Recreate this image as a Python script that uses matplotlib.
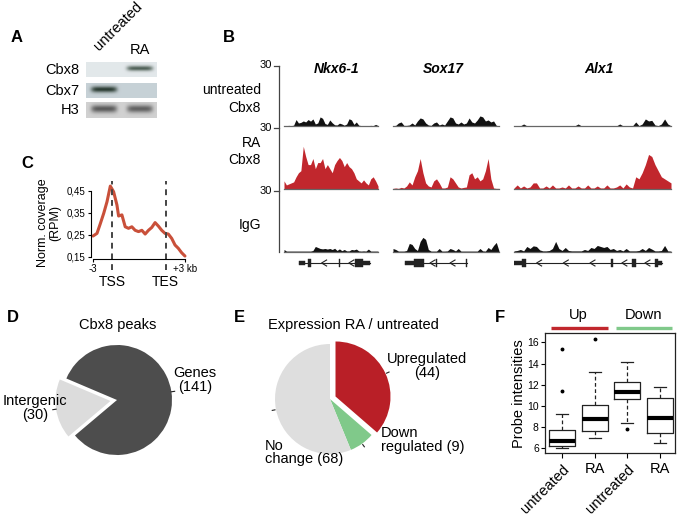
import numpy as np
import matplotlib
matplotlib.use('Agg')
import matplotlib.pyplot as plt

plt.rcParams['font.family'] = ['Liberation Sans', 'DejaVu Sans']

W, H = 680, 516

# A: western blot, band strength per lane
blot_rows = ['Cbx8', 'Cbx7', 'H3']
blot_untreated = [0.0, 0.95, 0.85]
blot_ra = [0.8, 0.0, 0.8]

# B: ChIP-seq coverage (0-30 scale), one list per gene and track
genes = ['Nkx6-1', 'Sox17', 'Alx1']
track_names = ['untreated\nCbx8', 'RA\nCbx8', 'IgG']
nkx_untr = [0.2, 0.2, 0.3, 0.2, 0.4, 3.2, 1.5, 1.8, 2.5, 2.0, 3.2, 2.4, 3.5, 1.0, 1.5, 4.5, 3.8, 1.2, 0.8, 3.0,
            1.6, 0.6, 0.5, 1.4, 1.0, 0.4, 1.0, 3.6, 3.0, 0.8, 2.0, 0.4, 0.2, 0.2, 0.2, 0.2, 0.3, 0.2, 0.8, 0.2]
nkx_ra = [4, 2, 2.5, 3, 3.5, 6, 8, 9, 21, 16, 12, 12, 15, 10, 13, 13, 15, 10, 12, 10,
          8, 12, 14, 15.5, 14, 11, 13, 11, 10, 8, 5, 4, 3, 4.5, 3, 2, 5, 6, 4, 1.5]
nkx_igg = [1, 0.2, 0.2, 0.2, 0.2, 0.2, 0.2, 0.2, 0.2, 0.2, 0.2, 0.2, 0.5, 2.5, 2, 1.5, 1.3, 1.5, 1.2, 1.5,
           1, 1.6, 0.5, 1.3, 0.4, 1, 0.3, 0.3, 1, 0.8, 1.2, 0.3, 0.2, 0.3, 0.2, 1.2, 0.2, 0.2, 0.2, 0.2]
sox_untr = [0.2, 0.3, 1.5, 2, 0.3, 0.3, 0.5, 1.5, 0.5, 2.5, 4, 3.5, 1.5, 0.5, 0.3, 1.5, 2, 0.5, 1, 0.5,
            2.5, 4.5, 4, 1.5, 1, 2, 1, 1.5, 4, 2, 1.5, 3, 5, 4.5, 2.5, 3, 2, 2.5, 0.3, 0.2]
sox_ra = [0.3, 0.5, 0.3, 0.8, 0.5, 1.5, 3.5, 2, 6, 9, 15, 8, 3, 1.5, 1, 4, 5, 3, 0.5, 0.5,
          1, 6, 5, 3, 1, 0.5, 0.8, 1, 7, 8, 5, 6, 4, 5, 9, 15, 5, 0.5, 0.3, 0.3]
sox_igg = [1.5, 1, 0.2, 0.2, 0.2, 0.5, 4, 3.5, 1.5, 0.5, 5, 7, 6, 1, 0.2, 0.2, 0.2, 1.5, 0.2, 0.2,
           0.3, 1.5, 1, 0.3, 1.5, 0.2, 0.2, 0.2, 0.2, 0.2, 0.2, 0.2, 1.5, 0.3, 0.2, 2, 1, 3, 4.5, 0.3]
alx_untr = [0.1, 0.1, 0.1, 1, 0.1, 0.1, 0.1, 0.1, 0.1, 0.1, 0.1, 0.1, 0.1, 0.1, 0.1, 0.1, 0.1, 0.1, 0.1, 0.1,
            1, 0.1, 0.1, 0.1, 0.1, 0.1, 0.1, 0.1, 0.1, 0.1, 0.1, 0.1, 0.1, 1, 0.1, 0.1, 0.1, 0.1, 2, 0.2,
            1, 3.5, 2.5, 2.8, 0.5, 0.2, 1, 3.5, 1, 0.1]
alx_ra = [0.5, 2, 0.5, 1.5, 0.5, 1, 3, 3, 0.5, 0.5, 1.5, 0.5, 2, 0.5, 0.5, 1, 0.5, 2, 0.5, 0.5,
          1.5, 0.5, 0.5, 2, 0.5, 0.5, 1.5, 0.5, 0.5, 2, 0.5, 0.5, 1, 2, 0.5, 2.5, 1, 0.5, 6, 5,
          8, 12, 17, 16, 12, 9, 6, 5, 4, 3]
alx_igg = [0.3, 0.5, 1, 0.3, 2.5, 1.5, 2.8, 2.5, 0.8, 0.3, 0.3, 0.5, 1.5, 5, 1.5, 0.5, 2, 0.5, 0.3, 0.3,
           0.3, 0.3, 1, 0.5, 2, 1.5, 3, 2.5, 2, 2.5, 1, 1.5, 0.5, 1, 0.3, 1.5, 0.3, 0.3, 0.3, 0.5,
           1.5, 0.5, 2, 1.2, 0.3, 0.3, 0.5, 3, 0.3, 0.2]

# gene models, in fractions of each locus window: intron span, exons (start, end, full/half), strand arrows
gene_span = [(0.16, 0.915), (0.113, 0.695), (0.0, 0.94)]
gene_exons = [[(0.16, 0.223, 0.5), (0.255, 0.287, 1), (0.585, 0.6, 1), (0.755, 0.84, 1), (0.84, 0.915, 0.5)],
              [(0.113, 0.198, 0.5), (0.198, 0.292, 1), (0.405, 0.418, 1), (0.685, 0.698, 1)],
              [(0.0, 0.049, 0.5), (0.049, 0.075, 1), (0.62, 0.632, 1), (0.75, 0.775, 1),
               (0.895, 0.917, 1), (0.917, 0.94, 0.5)]]
gene_arrows = [[0.40, 0.69], [0.349, 0.538], [0.144, 0.314, 0.484, 0.687, 0.834]]

# C: metagene profile
meta_pos = [0, 0.043, 0.079, 0.116, 0.152, 0.188, 0.224, 0.260, 0.278, 0.314, 0.350, 0.386, 0.422, 0.458,
            0.495, 0.531, 0.567, 0.603, 0.639, 0.675, 0.711, 0.747, 0.783, 0.819, 0.856, 0.892, 0.928,
            0.964, 1.0]
meta_cov = [0.244, 0.256, 0.30, 0.347, 0.40, 0.471, 0.445, 0.385, 0.335, 0.34, 0.286, 0.279, 0.286, 0.27,
            0.264, 0.27, 0.253, 0.27, 0.283, 0.305, 0.289, 0.27, 0.256, 0.253, 0.233, 0.203, 0.188,
            0.168, 0.153]
tss_pos, tes_pos = 0.206, 0.79
c_yticks = [0.15, 0.25, 0.35, 0.45]

# D
d_labels = ['Intergenic\n(30)', 'Genes\n(141)']
d_counts = [30, 141]

# E
e_labels = ['Upregulated\n(44)', 'Down\nregulated (9)', 'No\nchange (68)']
e_counts = [44, 9, 68]

# F: box statistics
f_ticks = ['untreated', 'RA', 'untreated', 'RA']
f_whislo = [6.0, 6.94, 8.42, 6.53]
f_q1 = [6.22, 7.66, 10.62, 7.47]
f_med = [6.72, 8.74, 11.31, 8.86]
f_q3 = [7.73, 10.06, 12.23, 10.72]
f_whishi = [9.2, 13.17, 14.17, 11.75]
f_fliers = [[11.43, 15.37], [16.31], [7.79], []]

RED = '#c1272d'
GREEN = '#80c98a'

fig = plt.figure(figsize=(6.8, 5.16), dpi=100)


def px_axes(x0, y0, x1, y1):
    return fig.add_axes([x0 / W, 1 - y1 / H, (x1 - x0) / W, (y1 - y0) / H])


# ---- B tracks
cols = [(284, 378), (393, 499), (514, 671)]
rows = [(65.5, 126), (128, 189), (191, 251.5)]
cov = [[nkx_untr, nkx_ra, nkx_igg], [sox_untr, sox_ra, sox_igg], [alx_untr, alx_ra, alx_igg]]
fills = ['#111111', RED, '#111111']
for g, (x0, x1) in enumerate(cols):
    for r, (y0, y1) in enumerate(rows):
        ax = px_axes(x0, y0, x1, y1)
        v = np.array(cov[g][r])
        xx = np.linspace(0, 1, len(v))
        ax.fill_between(xx, 0, v, color=fills[r], lw=0)
        ax.axhline(0, color='#666666', lw=0.9, clip_on=False)
        ax.set_xlim(0, 1)
        ax.set_ylim(0, 30)
        ax.axis('off')
    ax = px_axes(x0, 257, x1, 269)
    a, b = gene_span[g]
    ax.plot([a, b], [0, 0], color='#222222', lw=0.8)
    for s, e, hh in gene_exons[g]:
        ax.add_patch(plt.Rectangle((s, -0.6 * hh), e - s, 1.2 * hh, color='#222222', lw=0.3))
    d = 5.0 / (x1 - x0)
    for c in gene_arrows[g]:
        ax.plot([c + d, c, c + d], [0.5, 0, -0.5], color='#222222', lw=0.8)
    ax.set_xlim(0, 1)
    ax.set_ylim(-1, 1)
    ax.axis('off')

# ---- C metagene
ax = px_axes(91.2, 184.1, 186.8, 258.9)
ax.plot(meta_pos, meta_cov, color='#c9503a', lw=2.2, solid_capstyle='round')
ax.set_xlim(-0.02, 1.02)
ax.set_ylim(0.14, 0.48)
for p in (tss_pos, tes_pos):
    ax.plot([p, p], [0.09, 0.494], ls=(0, (3, 2.5)), color='#444444', lw=1.4, clip_on=False)
ax.text(tss_pos, 0.035, 'TSS', ha='center', va='center', fontsize=10)
ax.text(tes_pos, 0.035, 'TES', ha='center', va='center', fontsize=10)
for sp in ('top', 'right'):
    ax.spines[sp].set_visible(False)
ax.spines['left'].set_bounds(0.15, 0.45)
ax.spines['bottom'].set_bounds(0, 1)
ax.set_yticks(c_yticks)
ax.set_yticklabels([('%.2f' % v).replace('.', ',') for v in c_yticks])
ax.set_xticks([0, 1])
ax.set_xticklabels(['-3', '+3 kb'])
ax.tick_params(labelsize=7, length=2.5, pad=1.5)
ax.patch.set_alpha(0)

# ---- D pie
ax = px_axes(117 - 71.5, 400 - 71.5, 117 + 71.5, 400 + 71.5)
wedges, _ = ax.pie(d_counts, colors=['#dcdcdc', '#4d4d4d'], explode=[0.12, 0], startangle=157,
                   counterclock=True, wedgeprops=dict(lw=0))
for w, ex in zip(wedges, [0.12, 0]):
    th = np.deg2rad((w.theta1 + w.theta2) / 2)
    ax.plot([(1.0 + ex) * np.cos(th), (1.06 + ex) * np.cos(th)],
            [(1.0 + ex) * np.sin(th), (1.06 + ex) * np.sin(th)], color='#222222', lw=0.8)
ax.set_xlim(-1.3, 1.3)
ax.set_ylim(-1.3, 1.3)
ax.set_aspect('equal')

# ---- E pie
ax = px_axes(330 - 71.5, 399 - 71.5, 330 + 71.5, 399 + 71.5)
e_explode = [0.11, 0, 0]
wedges, _ = ax.pie(e_counts, colors=['#b91f27', GREEN, '#dedede'], explode=e_explode, startangle=90,
                   counterclock=False, wedgeprops=dict(lw=0))
for w, ex in zip(wedges, e_explode):
    th = np.deg2rad((w.theta1 + w.theta2) / 2)
    ax.plot([(1.02 + ex) * np.cos(th), (1.07 + ex) * np.cos(th)],
            [(1.02 + ex) * np.sin(th), (1.07 + ex) * np.sin(th)], color='#222222', lw=0.8)
ax.set_xlim(-1.3, 1.3)
ax.set_ylim(-1.3, 1.3)
ax.set_aspect('equal')

# ---- F boxplots
ax = px_axes(545, 333, 675, 453)
stats = []
for i in range(4):
    stats.append(dict(whislo=f_whislo[i], q1=f_q1[i], med=f_med[i], q3=f_q3[i],
                      whishi=f_whishi[i], fliers=f_fliers[i]))
ax.bxp(stats, positions=[1, 2, 3, 4], widths=0.8, capwidths=0.36, showfliers=True,
       boxprops=dict(color='#222222', lw=0.9),
       medianprops=dict(color='black', lw=3),
       whiskerprops=dict(color='#222222', lw=0.9, ls=(0, (3, 2))),
       capprops=dict(color='#222222', lw=0.9),
       flierprops=dict(marker='o', ms=1.8, mfc='black', mec='black'))
ax.set_xlim(0.48, 4.46)
ax.set_ylim(5.56, 16.88)
ax.set_yticks([6, 8, 10, 12, 14, 16])
ax.set_xticks([1, 2, 3, 4])
ax.set_xticklabels(f_ticks)
ax.tick_params(axis='y', labelsize=7.5, length=3, pad=1.5)
ax.tick_params(axis='x', labelsize=10.5, length=3.5, pad=3)
for lbl, t in zip(ax.get_xticklabels(), f_ticks):
    if t == 'untreated':
        lbl.set_rotation(45)
        lbl.set_ha('right')
        lbl.set_rotation_mode('anchor')
for sp in ax.spines.values():
    sp.set_linewidth(0.9)
    sp.set_color('#222222')

# ---- overlay for labels and blots
ov = fig.add_axes([0, 0, 1, 1])

# western blot
bx0, bx1 = 86, 157
lanes = [104, 140]
box_y = [(62, 77), (83, 98), (102, 118)]
band_w = [2.6, 3.1, 3.9]
bgs = [(0.89, 0.91, 0.92), (0.78, 0.82, 0.84), (0.82, 0.82, 0.82)]
band_c = [(0.16, 0.24, 0.19), (0.13, 0.20, 0.16), (0.27, 0.27, 0.27)]
xx = np.linspace(bx0, bx1, 142)
for i in range(3):
    y0, y1 = box_y[i]
    yy = np.linspace(y0, y1, 30)
    X, Y = np.meshgrid(xx, yy)
    alpha = np.zeros_like(X)
    for lx, val in zip(lanes, [blot_untreated[i], blot_ra[i]]):
        alpha += val * np.exp(-((X - lx) / 13.0) ** 6) * np.exp(-((Y - (y0 + 0.42 * (y1 - y0))) / band_w[i]) ** 2)
    alpha = np.clip(alpha, 0, 1)[..., None]
    img = np.array(bgs[i]) * (1 - alpha) + np.array(band_c[i]) * alpha
    ov.imshow(img, extent=(bx0, bx1, y1, y0), aspect='auto', interpolation='bilinear')
    ov.text(79, (y0 + y1) / 2 + 0.5, blot_rows[i], ha='right', va='center', fontsize=10.5)
ov.text(101, 53, 'untreated', rotation=45, ha='left', va='bottom', rotation_mode='anchor', fontsize=10.5)
ov.text(140, 50, 'RA', ha='center', va='center', fontsize=10.5)

# panel letters
for ch, x, y in [('A', 17, 38), ('B', 229, 38), ('C', 27, 163), ('D', 13, 318), ('E', 239, 317), ('F', 500, 317)]:
    ov.text(x, y, ch, fontsize=12, weight='bold', ha='center', va='center')

# B labels and scale
ov.plot([279, 279], [rows[0][0], rows[2][1]], color='#444444', lw=0.9)
for (y0, y1), name in zip(rows, track_names):
    ov.plot([274, 279], [y0, y0], color='#444444', lw=0.9)
    ov.text(272, y0, '30', ha='right', va='center', fontsize=8)
ov.text(261, 99, track_names[0], ha='right', va='center', fontsize=10, linespacing=1.3)
ov.text(261, 151.5, track_names[1], ha='right', va='center', fontsize=10, linespacing=1.3)
ov.text(261, 225, track_names[2], ha='right', va='center', fontsize=10)
for (x0, x1), gname in zip(cols, genes):
    ov.text((x0 + x1) / 2 + [6, -3, 6][genes.index(gname)], 69, gname, ha='center', va='center',
            fontsize=10, weight='bold', style='italic')

# C y label
ov.text(49, 223, 'Norm. coverage\n(RPM)', rotation=90, ha='center', va='center', fontsize=9, linespacing=1.1)

# D labels
ov.text(118, 325, 'Cbx8 peaks', ha='center', va='center', fontsize=10.5)
ov.text(195, 380, d_labels[1], ha='center', va='center', fontsize=10.5, linespacing=1.0)
ov.text(35, 407.5, d_labels[0], ha='center', va='center', fontsize=10.5, linespacing=1.0)

# E labels
ov.text(353, 325, 'Expression RA / untreated', ha='center', va='center', fontsize=10.5)
ov.text(427, 366.5, e_labels[0], ha='center', va='center', fontsize=10.5, linespacing=1.0)
ov.text(381, 440, e_labels[1], ha='left', va='center', fontsize=10.5, linespacing=1.0)
ov.text(265, 452.5, e_labels[2], ha='left', va='center', fontsize=10.5, linespacing=1.0)

# F group bars
ov.text(578, 315, 'Up', ha='center', va='center', fontsize=10.5)
ov.text(644, 315, 'Down', ha='center', va='center', fontsize=10.5)
ov.plot([551, 608], [328, 328], color=RED, lw=2.4, solid_capstyle='butt')
ov.plot([616, 672], [328, 328], color=GREEN, lw=2.4, solid_capstyle='butt')
ov.text(519, 394, 'Probe intensities', rotation=90, ha='center', va='center', fontsize=10.5)

ov.set_xlim(0, W)
ov.set_ylim(H, 0)
ov.axis('off')

fig.savefig('out.png', dpi=100)
